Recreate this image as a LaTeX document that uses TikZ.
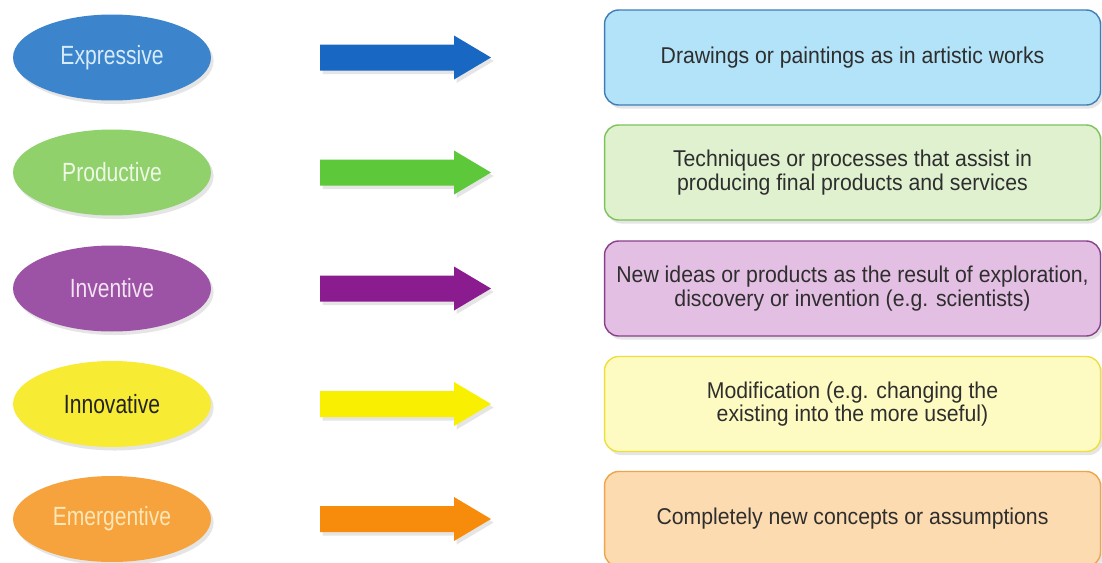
\documentclass[tikz,border=0pt]{standalone}
\usepackage{fontspec}
\setmainfont{Liberation Sans}[FakeStretch=0.8]
\newfontfamily\boxfont{Liberation Sans}[FakeStretch=0.93]
\usepackage{xcolor}
\usetikzlibrary{shapes.geometric,shadows,positioning}

% colours of the five kinds
\definecolor{expE}{HTML}{3C84CC}\definecolor{expA}{HTML}{1867C2}\definecolor{expB}{HTML}{B3E3F8}\definecolor{expD}{HTML}{3F7DB8}\definecolor{expT}{HTML}{D6ECFC}
\definecolor{proE}{HTML}{90D16C}\definecolor{proA}{HTML}{5CC83A}\definecolor{proB}{HTML}{E0F1D0}\definecolor{proD}{HTML}{7CC35A}\definecolor{proT}{HTML}{EEF8E6}
\definecolor{invE}{HTML}{9C52A5}\definecolor{invA}{HTML}{8A1C90}\definecolor{invB}{HTML}{E3BFE3}\definecolor{invD}{HTML}{8A3F8C}\definecolor{invT}{HTML}{F2E2F2}
\definecolor{innE}{HTML}{F7EC33}\definecolor{innA}{HTML}{F8F000}\definecolor{innB}{HTML}{FEFBC2}\definecolor{innD}{HTML}{EEDF3A}\definecolor{innT}{HTML}{222222}
\definecolor{emeE}{HTML}{F6A33D}\definecolor{emeA}{HTML}{F68B0C}\definecolor{emeB}{HTML}{FDDBB0}\definecolor{emeD}{HTML}{EFA448}\definecolor{emeT}{HTML}{FDE6B8}
\definecolor{boxtext}{HTML}{2E2E2E}

\tikzset{
  kind/.style={ellipse, minimum width=3.96cm, minimum height=1.72cm, inner sep=0pt,
    font=\fontsize{15}{17}\selectfont,
    drop shadow={shadow xshift=1.5pt, shadow yshift=-2pt, opacity=0.2}},
  meaning/.style={rectangle, rounded corners=8pt, line width=0.8pt,
    minimum width=9.92cm, minimum height=1.9cm, inner sep=2pt, align=center,
    text=boxtext, font=\boxfont\fontsize{13}{13.5}\selectfont,
    drop shadow={shadow xshift=1.5pt, shadow yshift=-2pt, opacity=0.2}},
  blockarrow/.style={drop shadow={shadow xshift=1.5pt, shadow yshift=-2pt, opacity=0.2}}
}

\begin{document}
\begin{tikzpicture}[x=0.02cm, y=-0.02cm]
\useasboundingbox (0,0) rectangle (1102,562);
\fill[white] (0,0) rectangle (1102,562);

\foreach \i/\y/\c/\kind/\txt in {
  1/57.5/exp/Expressive/{Drawings or paintings as in artistic works},
  2/172.5/pro/Productive/{Techniques or processes that assist in\\producing final products and services},
  3/288.5/inv/Inventive/{New ideas or products as the result of exploration,\\discovery or invention (e.g. scientists)},
  4/404/inn/Innovative/{Modification (e.g. changing the\\existing into the more useful)},
  5/519/eme/Emergentive/{Completely new concepts or assumptions}}
{
  % left oval, right box
  \node[kind, fill=\c E, text=\c T] (kind\i) at (112,\y) {\kind};
  \node[meaning, fill=\c B, draw=\c D] (mean\i) at (852.5,\y) {\txt};
  % block arrow between them
  \fill[\c A, blockarrow] (320,\y-13) -- (454,\y-13) -- (454,\y-22) -- (491,\y)
    -- (454,\y+22) -- (454,\y+13) -- (320,\y+13) -- cycle;
}
\end{tikzpicture}
\end{document}
